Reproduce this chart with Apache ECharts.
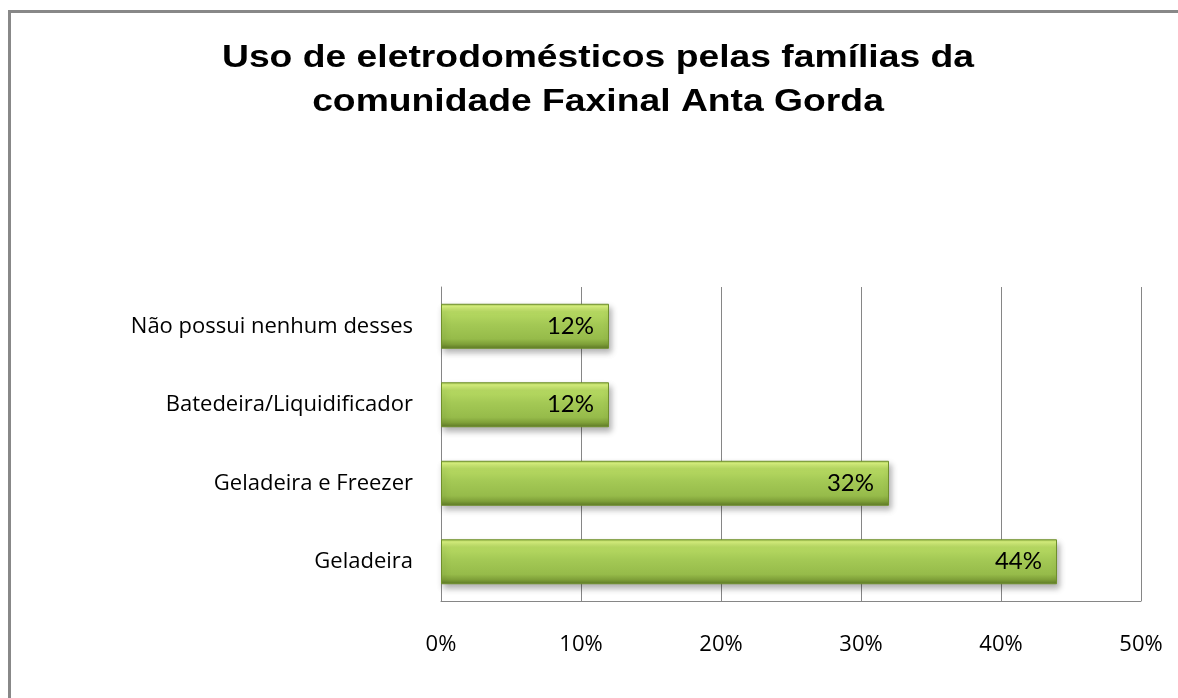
<!DOCTYPE html>
<html><head><meta charset="utf-8">
<script src="https://cdn.jsdelivr.net/npm/echarts@6/dist/echarts.min.js"></script>
<style>html,body{margin:0;padding:0;background:#fff}#c{width:1178px;height:698px}</style>
</head><body><div id="c"></div>
<script>
const titleText = 'Uso de eletrodomésticos pelas famílias da\ncomunidade Faxinal Anta Gorda';
const categories = ['Geladeira', 'Geladeira e Freezer', 'Batedeira/Liquidificador', 'Não possui nenhum desses'];
const values = [44, 32, 12, 12];
const xTicks = [0, 10, 20, 30, 40, 50];

const chart = echarts.init(document.getElementById('c'), null, {renderer: 'canvas'});
const barColor = new echarts.graphic.LinearGradient(0, 0, 0, 1, [
  {offset: 0, color: '#9fc24e'},
  {offset: 0.06, color: '#d8f27e'},
  {offset: 0.18, color: '#b7da62'},
  {offset: 0.45, color: '#a4c955'},
  {offset: 0.78, color: '#96bb4a'},
  {offset: 0.9, color: '#7e9f38'},
  {offset: 1, color: '#5d7826'}
]);
chart.setOption({
  animation: false,
  backgroundColor: '#fff',
  graphic: [{
    type: 'rect', shape: {x: 9.5, y: 11.5, width: 1180, height: 700},
    style: {fill: 'none', stroke: '#888', lineWidth: 3}, silent: true, z: 100
  }, {
    type: 'text', x: 598, y: 36, scaleX: 1.165, silent: true,
    style: {text: titleText, font: 'bold 32px "Liberation Sans", Arial', lineHeight: 44,
      align: 'center', verticalAlign: 'top', textAlign: 'center', textVerticalAlign: 'top', fill: '#000'}
  }],
  grid: {left: 441, right: 37, top: 287, bottom: 97, containLabel: false},
  xAxis: {
    type: 'value', min: 0, max: 50, interval: 10,
    axisLabel: {formatter: v => v + '%', fontFamily: 'Open Sans', fontSize: 22, color: '#000', margin: 33},
    splitLine: {show: true, lineStyle: {color: '#868686', width: 1}},
    axisLine: {show: true, lineStyle: {color: '#868686'}},
    axisTick: {show: false}
  },
  yAxis: {
    type: 'category', data: categories,
    axisLabel: {fontFamily: 'Open Sans', fontSize: 22, color: '#000', margin: 28},
    axisLine: {show: true, lineStyle: {color: '#868686'}},
    axisTick: {show: false}
  },
  series: [{
    type: 'bar', data: values, barWidth: 45,
    itemStyle: {color: barColor, borderColor: '#6f8f2c', borderWidth: 1,
      shadowColor: 'rgba(0,0,0,0.3)', shadowBlur: 6, shadowOffsetY: 4, shadowOffsetX: 2},
    label: {show: true, position: 'insideRight', distance: 15, formatter: p => p.value + '%',
      fontFamily: 'Lato', fontSize: 24, color: '#000'}
  }]
});
</script></body></html>
